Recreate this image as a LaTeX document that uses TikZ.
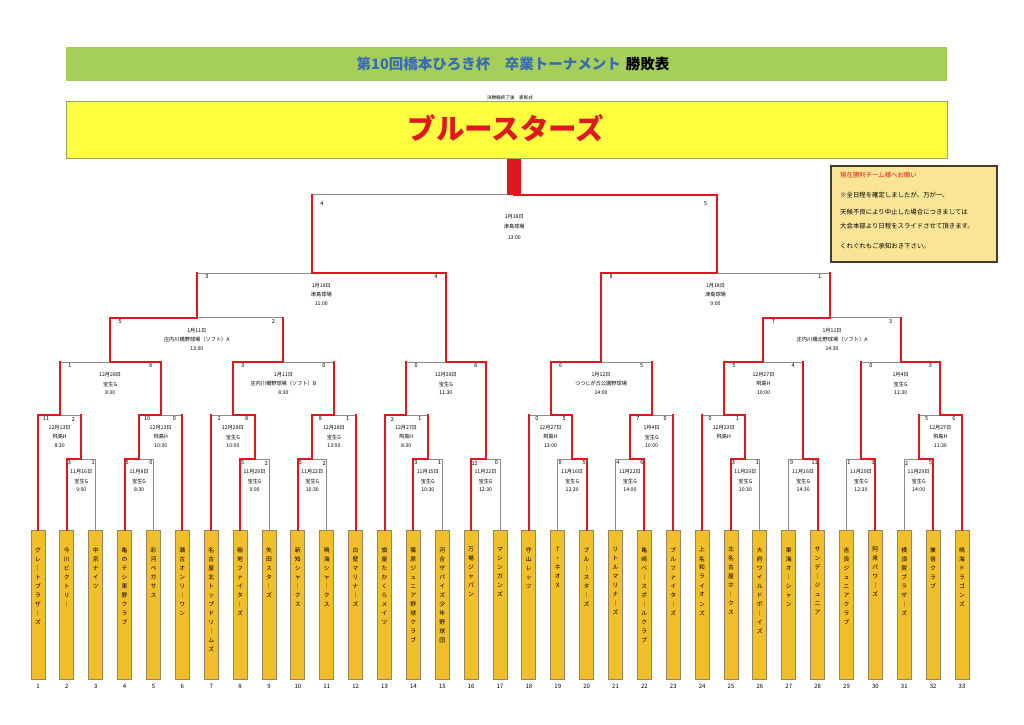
\documentclass[tikz,border=0pt]{standalone}
\usepackage{fontspec}
\setmainfont{Noto Sans CJK JP}
\usetikzlibrary{calc}
\definecolor{bgreen}{RGB}{166,206,90}
\definecolor{tblue}{RGB}{58,108,178}
\definecolor{cyellow}{RGB}{255,255,64}
\definecolor{cborder}{RGB}{150,165,110}
\definecolor{bred}{RGB}{222,24,30}
\definecolor{lgrey}{RGB}{140,140,140}
\definecolor{tfill}{RGB}{241,190,44}
\definecolor{tborder}{RGB}{150,135,95}
\definecolor{nfill}{RGB}{250,228,150}
\definecolor{nborder}{RGB}{70,60,45}
\newcommand\game[7]{%
  \draw[#4] (#2 |- #1) -- (#1);
  \draw[#5] (#1) -- (#3 |- #1);
  \draw[#6] (#2) -- (#2 |- #1);
  \draw[#7] (#3) -- (#3 |- #1);
}
\newcommand\glab[9]{%
  \path let \p1=(#2), \p2=(#3), \p3=(#1) in
    node[sc] (#1-l) at (\x1+#9, \y3-4) {#4}
    node[sc] (#1-r) at (\x2-#9, \y3-4) {#5}
    node[dt] (#1-a) at ({0.5*(\x1+\x2)}, \y3-13) {#6}
    node[dt] (#1-b) at ({0.5*(\x1+\x2)}, \y3-22) {#7}
    node[dt] (#1-c) at ({0.5*(\x1+\x2)}, \y3-31) {#8};
}
\begin{document}
\begin{tikzpicture}[x=1pt,y=-1pt,
  gl/.style={draw=lgrey, line width=0.8},
  rl/.style={draw=bred, line width=2, line cap=rect},
  sc/.style={font=\fontsize{5.5}{6}\selectfont, inner sep=0},
  dt/.style={font=\fontsize{5.2}{6}\selectfont, inner sep=0},
  teambox/.style={draw=tborder, fill=tfill, line width=0.8, minimum width=14, minimum height=149, inner sep=0},
  tname/.style={font=\fontsize{5.8}{9}\selectfont, align=center, inner sep=0, anchor=north},
  tnum/.style={font=\fontsize{6}{7}\selectfont, inner sep=0},
  note/.style={font=\fontsize{6.4}{7}\selectfont, inner sep=0, anchor=west}]
\useasboundingbox (0,0) rectangle (1024,724);
\fill[white] (0,0) rectangle (1024,724);

% header
\node[fill=bgreen, minimum width=881, minimum height=34, inner sep=0] (banner) at (506.5,64) {};
\node[inner sep=0, font=\fontsize{14.5}{17}\selectfont\bfseries] (title) at (513,64)
  {\textcolor{tblue}{第10回橋本ひろき杯　卒業トーナメント}\hspace{5pt}勝敗表};
\node[inner sep=0, font=\fontsize{4.6}{5}\selectfont] (cer) at (510,98) {決勝戦終了後　表彰式};
\node[draw=cborder, line width=1, fill=cyellow, minimum width=881, minimum height=57, inner sep=0] (champ) at (506.5,129.5) {};
\node[inner sep=0, text=bred, font=\fontsize{28.5}{30}\selectfont\bfseries] (champt) at (506,128) {ブルースターズ};

% note box
\node[draw=nborder, line width=1.2, fill=nfill, minimum width=166, minimum height=96, inner sep=0] (nbox) at (914,214) {};
\node[note, text=bred] (n1) at (840,175.5) {現在勝利チーム様へお願い};
\node[note] (n2) at (840,195.5) {※全日程を確定しましたが、万が一、};
\node[note] (n3) at (840,212.5) {天候不良により中止した場合につきましては};
\node[note] (n4) at (840,226.5) {大会本部より日程をスライドさせて頂きます。};
\node[note] (n5) at (840,246) {くれぐれもご承知おき下さい。};

% teams
\foreach \nm [count=\i] in {
 {グ\\レ\\｜\\ト\\ブ\\ラ\\ザ\\｜\\ズ},
 {今\\川\\ビ\\ク\\ト\\リ\\｜},
 {中\\京\\ナ\\イ\\ツ},
 {亀\\の\\テ\\シ\\東\\野\\ク\\ラ\\ブ},
 {彩\\河\\ペ\\ガ\\サ\\ス},
 {瀬\\古\\オ\\ン\\リ\\｜\\ワ\\ン},
 {名\\古\\屋\\北\\ト\\ッ\\プ\\ド\\リ\\｜\\ム\\ズ},
 {稲\\地\\フ\\ァ\\イ\\タ\\｜\\ズ},
 {矢\\田\\ス\\タ\\｜\\ズ},
 {新\\知\\シ\\ャ\\｜\\ク\\ス},
 {鳴\\海\\シ\\ャ\\｜\\ク\\ス},
 {白\\壁\\マ\\リ\\ナ\\｜\\ズ},
 {旗\\屋\\た\\か\\く\\ら\\メ\\イ\\ツ},
 {篠\\原\\ジ\\ュ\\ニ\\ア\\野\\球\\ク\\ラ\\ブ},
 {河\\合\\ザ\\パ\\イ\\ズ\\少\\年\\野\\球\\団},
 {万\\場\\ジ\\ャ\\パ\\ン},
 {マ\\シ\\ン\\ガ\\ン\\ズ},
 {守\\山\\レ\\ッ\\ツ},
 {T\\・\\ネ\\オ\\X},
 {ブ\\ル\\｜\\ス\\タ\\｜\\ズ},
 {リ\\ト\\ル\\マ\\リ\\ナ\\｜\\ズ},
 {亀\\崎\\ベ\\｜\\ス\\ボ\\｜\\ル\\ク\\ラ\\ブ},
 {ブ\\ル\\フ\\ァ\\イ\\タ\\｜\\ズ},
 {上\\名\\和\\ラ\\イ\\オ\\ン\\ズ},
 {北\\名\\古\\屋\\ホ\\｜\\ク\\ス},
 {大\\府\\ワ\\イ\\ル\\ド\\ボ\\｜\\イ\\ズ},
 {東\\海\\オ\\｜\\シ\\ャ\\ン},
 {サ\\ン\\デ\\｜\\ジ\\ュ\\ニ\\ア},
 {吉\\良\\ジ\\ュ\\ニ\\ア\\ク\\ラ\\ブ},
 {阿\\来\\パ\\ワ\\｜\\ズ},
 {横\\須\\賀\\ブ\\ラ\\ザ\\｜\\ズ},
 {兼\\信\\ク\\ラ\\ブ},
 {鳴\\海\\ド\\ラ\\ゴ\\ン\\ズ}}{
  \pgfmathsetmacro\xx{38+(\i-1)*28.875}
  \node[teambox] (t\i) at (\xx,604.5) {};
  \node[tname] (n\i) at (\xx,547) {\nm};
  \node[tnum] (k\i) at (\xx,686) {\i};
}

% match points
\coordinate (A1) at (81.3125,459);
\coordinate (A2) at (139.0625,459);
\coordinate (A3) at (254.5625,459);
\coordinate (A4) at (312.3125,459);
\coordinate (A5) at (427.8125,459);
\coordinate (A6) at (485.5625,459);
\coordinate (A7) at (572.1875,459);
\coordinate (A8) at (629.9375,459);
\coordinate (A9) at (745.4375,459);
\coordinate (A10) at (803.1875,459);
\coordinate (A11) at (860.9375,459);
\coordinate (A12) at (918.6875,459);
\coordinate (B1) at (59.656,415);
\coordinate (B2) at (160.719,415);
\coordinate (B3) at (232.906,415);
\coordinate (B4) at (333.969,415);
\coordinate (B5) at (406.156,415);
\coordinate (B6) at (550.531,415);
\coordinate (B7) at (651.594,415);
\coordinate (B8) at (723.781,415);
\coordinate (B9) at (940.344,415);
\coordinate (C1) at (110.19,362);
\coordinate (C2) at (283.44,362);
\coordinate (C3) at (445.86,362);
\coordinate (C4) at (601.06,362);
\coordinate (C5) at (763.48,362);
\coordinate (C6) at (900.64,362);
\coordinate (D1) at (196.81,317.5);
\coordinate (D2) at (830,317.5);
\coordinate (E1) at (312,273);
\coordinate (E2) at (716.56,273);
\coordinate (F) at (514.28,194.5);

% round 1
\game{A1}{t2.north}{t3.north}{rl}{gl}{rl}{gl}
\game{A2}{t4.north}{t5.north}{rl}{gl}{rl}{gl}
\game{A3}{t8.north}{t9.north}{rl}{gl}{rl}{gl}
\game{A4}{t10.north}{t11.north}{rl}{gl}{rl}{gl}
\game{A5}{t14.north}{t15.north}{rl}{gl}{rl}{gl}
\game{A6}{t16.north}{t17.north}{rl}{gl}{rl}{gl}
\game{A7}{t19.north}{t20.north}{gl}{rl}{gl}{rl}
\game{A8}{t21.north}{t22.north}{gl}{rl}{gl}{rl}
\game{A9}{t25.north}{t26.north}{rl}{gl}{rl}{gl}
\game{A10}{t27.north}{t28.north}{gl}{rl}{gl}{rl}
\game{A11}{t29.north}{t30.north}{gl}{rl}{gl}{rl}
\game{A12}{t31.north}{t32.north}{gl}{rl}{gl}{rl}
% round 2
\game{B1}{t1.north}{A1}{rl}{gl}{rl}{rl}
\game{B2}{A2}{t6.north}{rl}{gl}{rl}{rl}
\game{B3}{t7.north}{A3}{gl}{rl}{rl}{rl}
\game{B4}{A4}{t12.north}{rl}{gl}{rl}{rl}
\game{B5}{t13.north}{A5}{rl}{gl}{rl}{rl}
\game{B6}{t18.north}{A7}{gl}{rl}{rl}{rl}
\game{B7}{A8}{t23.north}{rl}{gl}{rl}{rl}
\game{B8}{t24.north}{A9}{gl}{rl}{rl}{rl}
\game{B9}{A12}{t33.north}{gl}{rl}{rl}{rl}
% round 3
\game{C1}{B1}{B2}{gl}{rl}{rl}{rl}
\game{C2}{B3}{B4}{rl}{gl}{rl}{rl}
\game{C3}{B5}{A6}{gl}{rl}{rl}{rl}
\game{C4}{B6}{B7}{rl}{gl}{rl}{rl}
\game{C5}{B8}{A10}{rl}{gl}{rl}{rl}
\game{C6}{A11}{B9}{gl}{rl}{rl}{rl}
% round 4, 5, final
\game{D1}{C1}{C2}{rl}{gl}{rl}{rl}
\game{D2}{C5}{C6}{rl}{gl}{rl}{rl}
\game{E1}{D1}{C3}{gl}{rl}{rl}{rl}
\game{E2}{C4}{D2}{rl}{gl}{rl}{rl}
\game{F}{E1}{E2}{gl}{rl}{rl}{rl}
\draw[bred, line width=14] (F) -- (F |- champ.south);

% labels
\glab{A1}{t2.north}{t3.north}{3}{1}{11月16日}{宝生G}{9:00}{2.5}
\glab{A2}{t4.north}{t5.north}{5}{0}{11月8日}{宝生G}{8:30}{2.5}
\glab{A3}{t8.north}{t9.north}{5}{2}{11月29日}{宝生G}{9:00}{2.5}
\glab{A4}{t10.north}{t11.north}{5}{2}{11月22日}{宝生G}{10:30}{2.5}
\glab{A5}{t14.north}{t15.north}{3}{1}{11月15日}{宝生G}{10:30}{2.5}
\glab{A6}{t16.north}{t17.north}{12}{0}{11月22日}{宝生G}{12:30}{3.5}
\glab{A7}{t19.north}{t20.north}{0}{5}{11月16日}{宝生G}{12:30}{2.5}
\glab{A8}{t21.north}{t22.north}{4}{6}{11月22日}{宝生G}{14:00}{2.5}
\glab{A9}{t25.north}{t26.north}{3}{1}{11月29日}{宝生G}{10:30}{2.5}
\glab{A10}{t27.north}{t28.north}{9}{11}{11月16日}{宝生G}{14:30}{3}
\glab{A11}{t29.north}{t30.north}{1}{3}{11月29日}{宝生G}{12:30}{2.5}
\glab{A12}{t31.north}{t32.north}{2}{5}{11月29日}{宝生G}{14:00}{2.5}
\glab{B1}{t1.north}{A1}{11}{2}{12月13日}{飛島H}{8:30}{8}
\glab{B2}{A2}{t6.north}{10}{0}{12月13日}{飛島H}{10:30}{8}
\glab{B3}{t7.north}{A3}{1}{8}{12月28日}{宝生G}{10:00}{8}
\glab{B4}{A4}{t12.north}{8}{1}{12月28日}{宝生G}{13:00}{8}
\glab{B5}{t13.north}{A5}{2}{1}{12月27日}{飛島H}{8:30}{8}
\glab{B6}{t18.north}{A7}{0}{5}{12月27日}{飛島H}{13:00}{8}
\glab{B7}{A8}{t23.north}{7}{0}{1月4日}{宝生G}{10:00}{8}
\glab{B8}{t24.north}{A9}{0}{1}{12月23日}{飛島H}{}{8}
\glab{B9}{A12}{t33.north}{5}{6}{12月27日}{飛島H}{11:30}{8}
\glab{C1}{B1}{B2}{1}{8}{12月28日}{宝生G}{8:30}{10}
\glab{C2}{B3}{B4}{3}{0}{1月11日}{庄内川橋野球場（ソフト）B}{8:30}{10}
\glab{C3}{B5}{A6}{0}{8}{12月28日}{宝生G}{11:30}{10}
\glab{C4}{B6}{B7}{6}{5}{1月12日}{つつじが丘公園野球場}{14:00}{10}
\glab{C5}{B8}{A10}{5}{4}{12月27日}{飛島H}{10:00}{10}
\glab{C6}{A11}{B9}{0}{3}{1月4日}{宝生G}{11:30}{10}
\glab{D1}{C1}{C2}{5}{2}{1月11日}{庄内川橋野球場（ソフト）A}{13:00}{10}
\glab{D2}{C5}{C6}{7}{3}{1月11日}{庄内川橋北野球場（ソフト）A}{14:30}{10}
\glab{E1}{D1}{C3}{3}{4}{1月18日}{津島球場}{11:00}{10}
\glab{E2}{C4}{D2}{8}{1}{1月18日}{津島球場}{9:00}{10}
\path let \p1=(E1), \p2=(E2), \p3=(F) in
  node[sc] (F-l) at (\x1+10, \y3-9) {4}
  node[sc] (F-r) at (\x2-11, \y3-9) {5}
  node[dt] (F-a) at ({0.5*(\x1+\x2)}, \y3-22) {1月18日}
  node[dt] (F-b) at ({0.5*(\x1+\x2)}, \y3-32.5) {津島球場}
  node[dt] (F-c) at ({0.5*(\x1+\x2)}, \y3-43) {13:00};
\end{tikzpicture}
\end{document}
